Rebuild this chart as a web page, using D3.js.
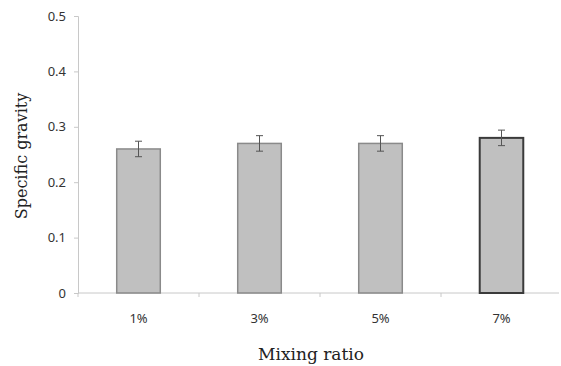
<html>
<head>
<script src="https://d3js.org/d3.v7.min.js"></script>
<style>
body {
    margin: 0;
    padding: 0;
    background: #fff;
}
.axis text {
    fill: #333;
    font-family: 'Noto Sans', sans-serif;
    font-size: 13px;
}
.title {
    font-family: 'DejaVu Serif', 'Liberation Serif', serif;
    font-size: 17px;
    fill: #222;
}
</style>
</head>
<body>
<script>
var categories = ["1%", "3%", "5%", "7%"];
var values = [0.26, 0.27, 0.27, 0.28];
var errors = [0.014, 0.014, 0.014, 0.014];
var yTicks = [0, 0.1, 0.2, 0.3, 0.4, 0.5];

var width = 561, height = 366;
var plotLeft = 78, plotTop = 16, plotRight = 561, plotBottom = 293;

var svg = d3.select("body")
    .append("svg")
    .attr("width", width)
    .attr("height", height);

var x = d3.scaleBand()
    .domain(categories)
    .range([plotLeft, plotLeft + 121 * 4])
    .paddingInner(0.64)
    .paddingOuter(0.32);

var y = d3.scaleLinear().domain([0, 0.5]).range([plotBottom, plotTop]);

// Y axis
var yAxis = svg.append("g")
    .attr("class", "axis")
    .attr("transform", "translate(" + plotLeft + ",0)")
    .call(d3.axisLeft(y).tickValues(yTicks).tickSize(4).tickPadding(8)
        .tickFormat(function (d) { return d === 0 ? "0" : d3.format(".1f")(d); }));
yAxis.select(".domain").attr("stroke", "#c8c8c8");
yAxis.selectAll(".tick line").attr("stroke", "#c8c8c8");

// X axis
var xAxis = svg.append("g")
    .attr("class", "axis")
    .attr("transform", "translate(0," + plotBottom + ")");
xAxis.append("line")
    .attr("x1", plotLeft).attr("x2", plotRight - 2)
    .attr("stroke", "#c8c8c8");
var step = x.step();
xAxis.selectAll(".sep")
    .data(d3.range(categories.length + 1))
    .enter().append("line")
    .attr("x1", function (i) { return plotLeft + i * step; })
    .attr("x2", function (i) { return plotLeft + i * step; })
    .attr("y1", 0).attr("y2", 4)
    .attr("stroke", "#c8c8c8");
xAxis.selectAll("text")
    .data(categories)
    .enter().append("text")
    .attr("x", function (d) { return x(d) + x.bandwidth() / 2; })
    .attr("y", 30)
    .attr("text-anchor", "middle")
    .text(function (d) { return d; });

// Bars
svg.selectAll(".bar")
    .data(values)
    .enter().append("rect")
    .attr("class", "bar")
    .attr("x", function (d, i) { return x(categories[i]); })
    .attr("y", function (d) { return y(d); })
    .attr("width", x.bandwidth())
    .attr("height", function (d) { return y(0) - y(d); })
    .attr("fill", "#c0c0c0")
    .attr("stroke", function (d, i) { return i === 3 ? "#3a3a3a" : "#8a8a8a"; })
    .attr("stroke-width", function (d, i) { return i === 3 ? 2 : 1.5; });

// Error bars
var eb = svg.selectAll(".err")
    .data(values)
    .enter().append("g")
    .attr("class", "err")
    .attr("stroke", "#555")
    .attr("stroke-width", 1);
eb.append("line")
    .attr("x1", function (d, i) { return x(categories[i]) + x.bandwidth() / 2; })
    .attr("x2", function (d, i) { return x(categories[i]) + x.bandwidth() / 2; })
    .attr("y1", function (d, i) { return y(d + errors[i]); })
    .attr("y2", function (d, i) { return y(d - errors[i]); });
eb.selectAll(".cap")
    .data(function (d, i) { return [[i, d + errors[i]], [i, d - errors[i]]]; })
    .enter().append("line")
    .attr("x1", function (p) { return x(categories[p[0]]) + x.bandwidth() / 2 - 3.5; })
    .attr("x2", function (p) { return x(categories[p[0]]) + x.bandwidth() / 2 + 3.5; })
    .attr("y1", function (p) { return y(p[1]); })
    .attr("y2", function (p) { return y(p[1]); });

// Titles
svg.append("text")
    .attr("class", "title")
    .attr("text-anchor", "middle")
    .style("font-size", "16px")
    .attr("transform", "translate(27,156) rotate(-90)")
    .text("Specific gravity");

svg.append("text")
    .attr("class", "title")
    .attr("text-anchor", "middle")
    .attr("x", 311)
    .attr("y", 360)
    .text("Mixing ratio");
</script>
</body>
</html>
